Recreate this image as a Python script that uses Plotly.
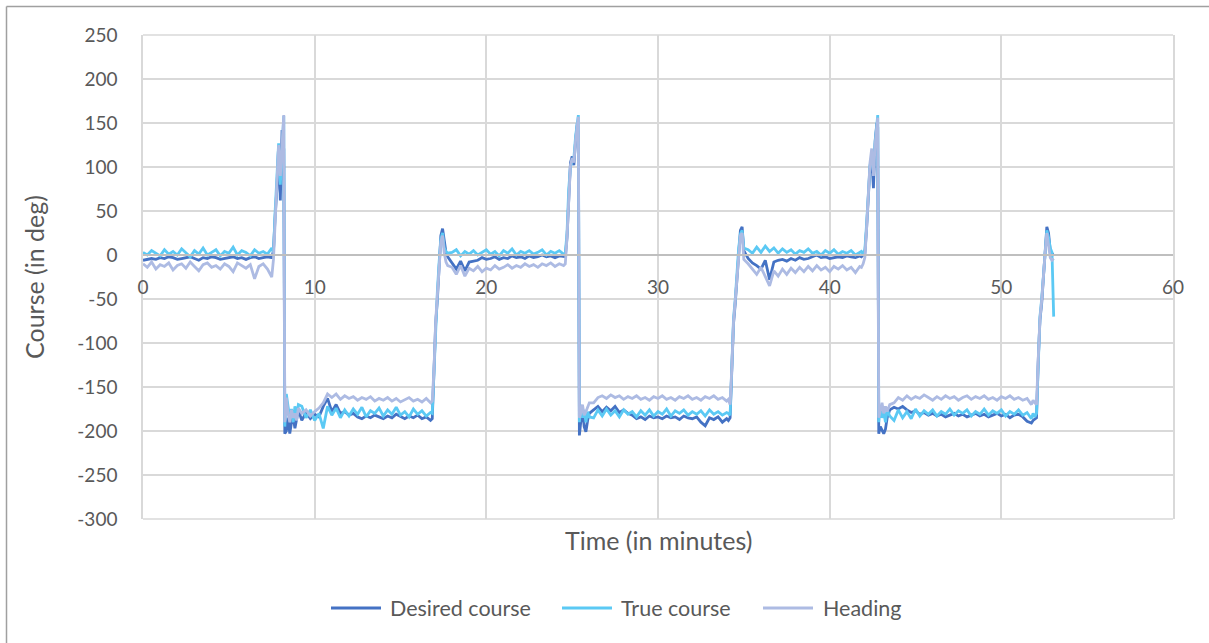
import plotly.graph_objects as go

# Sample times (minutes); denser sampling around each turn
minutes = [
    0, 0.25, 0.5, 0.75, 1, 1.25, 1.5, 1.75, 2, 2.25, 2.5, 2.75, 3, 3.25, 3.5, 3.75,
    4, 4.25, 4.5, 4.75, 5, 5.25, 5.5, 5.75, 6, 6.25, 6.5, 6.75, 7, 7.25, 7.5,
    7.6, 7.7, 7.8, 7.9, 8.0, 8.1, 8.2, 8.26, 8.35, 8.45, 8.55, 8.65, 8.75, 8.85, 8.95, 9.05,
    9.25, 9.5, 9.75, 10, 10.25, 10.5, 10.75, 11, 11.25, 11.5, 11.75, 12, 12.25, 12.5, 12.75,
    13, 13.25, 13.5, 13.75, 14, 14.25, 14.5, 14.75, 15, 15.25, 15.5, 15.75, 16, 16.25, 16.5, 16.75,
    16.85, 16.95, 17.05, 17.15, 17.25, 17.35, 17.45, 17.55, 17.65, 17.75,
    18, 18.25, 18.5, 18.75, 19, 19.25, 19.5, 19.75, 20, 20.25, 20.5, 20.75, 21, 21.25,
    21.5, 21.75, 22, 22.25, 22.5, 22.75, 23, 23.25, 23.5, 23.75, 24, 24.25, 24.5,
    24.6, 24.7, 24.8, 24.9, 25.0, 25.1, 25.2, 25.3, 25.36, 25.42, 25.5, 25.6, 25.7, 25.8, 25.9, 26.0,
    26.25, 26.5, 26.75, 27, 27.25, 27.5, 27.75, 28, 28.25, 28.5, 28.75, 29, 29.25, 29.5, 29.75,
    30, 30.25, 30.5, 30.75, 31, 31.25, 31.5, 31.75, 32, 32.25, 32.5, 32.75, 33, 33.25, 33.5, 33.75, 34,
    34.1, 34.2, 34.3, 34.4, 34.5, 34.6, 34.7, 34.8, 34.9, 35.0,
    35.25, 35.5, 35.75, 36, 36.25, 36.5, 36.75, 37, 37.25, 37.5, 37.75, 38, 38.25, 38.5,
    38.75, 39, 39.25, 39.5, 39.75, 40, 40.25, 40.5, 40.75, 41, 41.25, 41.5, 41.75,
    41.85, 41.95, 42.05, 42.15, 42.25, 42.35, 42.45, 42.55, 42.65, 42.75, 42.8, 42.86,
    42.95, 43.05, 43.15, 43.25, 43.35, 43.5,
    43.75, 44, 44.25, 44.5, 44.75, 45, 45.25, 45.5, 45.75, 46, 46.25, 46.5, 46.75, 47, 47.25,
    47.5, 47.75, 48, 48.25, 48.5, 48.75, 49, 49.25, 49.5, 49.75, 50, 50.25, 50.5, 50.75, 51,
    51.25, 51.5, 51.75,
    51.85, 51.95, 52.05, 52.15, 52.25, 52.35, 52.45, 52.55, 52.65, 52.75, 52.85, 52.95, 53.05,
]

desired_course = [
    -6, -5, -4, -5, -3, -4, -2, -3, -5, -4, -3, -2, -4, -6, -3, -4, -2, -3, -5, -4,
    -3, -2, -4, -3, -5, -3, -2, -4, -3, -2, -3,
    5, 45, 75, 125, 62, 142, 120, -203, -200, -185, -203, -190, -184, -197, -186, -176,
    -188, -179, -186, -181, -184, -172, -163, -178, -170, -180, -178, -182, -180, -184, -186,
    -183, -185, -182, -184, -186, -183, -185, -181, -184, -186, -183, -185, -182, -186, -184, -188,
    -186, -135, -78, -50, -15, 22, 30, 15, 3, -2,
    -9, -16, -7, -18, -8, -7, -6, -3, -5, -4, -2, -5, -3, -4, -1, -3, -2, -4, -1, -3,
    -2, 0, -2, -1, -3, -1, -2,
    -2, 20, 70, 105, 112, 102, 130, 150, 140, -205, -190, -175, -195, -201, -188, -180,
    -176, -172, -178, -173, -177, -172, -179, -176, -180, -182, -186, -184, -187, -183, -185,
    -184, -186, -183, -185, -184, -187, -183, -185, -186, -184, -190, -194, -185, -187, -184, -190, -186,
    -188, -185, -130, -78, -55, -25, 5, 28, 32, 5,
    -4, -9, -12, -16, -6, -28, -8, -6, -5, -7, -4, -6, -3, -5, -4, -2, 0, -3, -2, -4,
    -3, -2, -3, -1, -2, -3, -1,
    -2, 0, 2, 30, 70, 100, 110, 76, 130, 150, 145, -203, -195, -200, -203, -198, -185, -176,
    -173, -175, -172, -176, -179, -177, -181, -179, -182, -180, -183, -181, -184, -182, -180,
    -183, -181, -184, -182, -180, -183, -181, -184, -182, -180, -183, -181, -185, -182, -181,
    -184, -189, -191,
    -188, -186, -185, -120, -74, -55, -25, 5, 32, 25, 5, 2, -1,
]

true_course = [
    3, 0, 5, 2, -1, 6, 1, 4, 0, 7, 2, -2, 5, 1, 8, 0, 3, 6, -1, 4,
    2, 9, 0, 5, 3, -1, 6, 2, 4, 1, 8,
    3, 50, 85, 127, 80, 125, 158, -195, -158, -172, -185, -175, -190, -172, -183, -170,
    -172, -185, -176, -188, -180, -197, -172, -182, -174, -185, -176, -183, -175, -181, -173,
    -184, -177, -180, -174, -183, -176, -181, -173, -182, -178, -184, -175, -181, -177, -183, -179,
    -180, -130, -70, -40, -8, 18, 25, 8, 4, 2,
    3, 6, -1, 4, 1, 5, 0, 3, 6, 1, 4, -1, 5, 2, 7, 0, 4, 2, 5, 1,
    3, 6, 0, 4, 2, 5, 1,
    2, 25, 75, 100, 108, 110, 135, 155, 159, -190, -172, -185, -176, -190, -178, -184,
    -185, -176, -183, -175, -182, -177, -184, -176, -181, -178, -184, -177, -182, -176, -183,
    -178, -181, -175, -183, -177, -180, -176, -182, -178, -181, -177, -183, -176, -181, -178, -182, -179,
    -180, -182, -125, -72, -50, -20, 8, 24, 28, 8,
    6, 2, 9, 3, 10, 4, 8, 2, 7, 3, 6, 1, 5, 3, 7, 2, 4, 0, 5, 2,
    6, 1, 4, 2, 5, 0, 3,
    4, 1, 6, 35, 72, 102, 112, 95, 128, 155, 159, -190, -172, -185, -178, -190, -176, -183,
    -188, -176, -185, -178, -186, -175, -183, -177, -181, -176, -183, -178, -181, -175, -182,
    -177, -180, -176, -183, -178, -181, -175, -182, -177, -180, -176, -183, -178, -181, -176,
    -182, -179, -186,
    -180, -184, -180, -115, -70, -50, -20, 8, 28, 20, 8, 3, -70,
]

heading = [
    -10, -14, -8, -16, -11, -13, -9, -17, -12, -10, -15, -8, -13, -18, -11, -9, -14, -12, -16, -10,
    -13, -19, -9, -12, -15, -11, -27, -13, -10, -16, -25,
    -5, 45, 80, 125, 90, 130, 159, -190, -162, -180, -190, -176, -185, -180, -188, -174,
    -180, -176, -183, -178, -174, -168, -158, -162, -158, -164, -160, -163, -161, -165, -162,
    -164, -161, -166, -163, -165, -162, -166, -163, -167, -164, -162, -166, -164, -167, -163, -168,
    -166, -130, -75, -45, -12, 15, 22, 2, -8, -12,
    -14, -22, -12, -24, -15, -18, -13, -19, -15, -17, -12, -16, -14, -11, -15, -12, -14, -10, -13, -11,
    -14, -10, -12, -9, -13, -10, -12,
    -10, 20, 72, 102, 110, 105, 130, 152, 157, -185, -180, -170, -182, -178, -172, -168,
    -168, -162, -160, -163, -159, -162, -160, -164, -161, -163, -160, -164, -162, -165, -161,
    -163, -160, -164, -162, -165, -161, -163, -160, -164, -162, -165, -161, -163, -160, -164, -162, -166,
    -164, -170, -128, -76, -52, -24, 2, 22, 25, -5,
    -10, -16, -22, -14, -25, -35, -18, -24, -16, -22, -15, -20, -14, -19, -13, -18, -12, -17, -14, -19,
    -13, -16, -12, -17, -14, -20, -13,
    -14, -10, -3, 30, 75, 105, 121, 90, 125, 150, 156, -185, -178, -168, -180, -172, -178, -170,
    -168, -162, -165, -160, -164, -161, -163, -159, -162, -165, -161, -164, -160, -163, -161,
    -165, -162, -160, -164, -161, -163, -160, -164, -162, -165, -161, -163, -160, -164, -162,
    -165, -163, -170,
    -165, -168, -170, -118, -72, -52, -22, 2, 25, 12, -3, -6, -4,
]

assert len(minutes) == len(desired_course) == len(true_course) == len(heading)

# Axis ticks
time_ticks = [0, 10, 20, 30, 40, 50, 60]
course_ticks = [-300, -250, -200, -150, -100, -50, 0, 50, 100, 150, 200, 250]
course_tick_labels = ["-300", "-250", "-200", "-150", "-100", "-50",
                      "0", "50", "100", "150", "200", "250"]

series = [
    ("Desired course", desired_course, "#4472C4"),
    ("True course", true_course, "#5BC9F4"),
    ("Heading", heading, "#ADBBE3"),
]

GRID = "#D9D9D9"
TEXT = "#595959"
FONT = "Lato"
LINE_W = 2.8
W, H = 1209, 643
ML, MR, MT, MB = 143, 36, 35, 124
plot_w, plot_h = W - ML - MR, H - MT - MB


def px_x(p):
    """Page pixel column -> paper x."""
    return (p - ML) / plot_w


def px_y(p):
    """Page pixel row -> paper y."""
    return (H - MB - p) / plot_h


fig = go.Figure()
for name, values, color in series:
    fig.add_trace(go.Scatter(
        x=minutes, y=values, name=name, mode="lines",
        line=dict(color=color, width=LINE_W),
        hoverinfo="skip", showlegend=False,
    ))

Y_MIN, Y_MAX = course_ticks[0], course_ticks[-1]

fig.update_layout(
    width=W, height=H,
    margin=dict(l=ML, r=MR, t=MT, b=MB, autoexpand=False),
    paper_bgcolor="white", plot_bgcolor="white",
    font=dict(family=FONT, size=19, color=TEXT),
    showlegend=False,
    xaxis=dict(
        range=[time_ticks[0], time_ticks[-1]], tickmode="array", tickvals=time_ticks,
        showgrid=True, gridcolor=GRID, gridwidth=1.5,
        zeroline=False,
        anchor="free", position=(0 - Y_MIN) / (Y_MAX - Y_MIN),
        showline=True, linecolor="#BFBFBF", linewidth=1.5,
        ticks="", ticklabelstandoff=15,
        tickfont=dict(family=FONT, size=19, color=TEXT),
        automargin=False,
    ),
    yaxis=dict(
        range=[Y_MIN, Y_MAX], tickmode="array",
        tickvals=course_ticks, ticktext=course_tick_labels,
        showgrid=True, gridcolor=GRID, gridwidth=1.5,
        zeroline=False,
        showline=True, linecolor=GRID, linewidth=1.5, mirror=True,
        ticks="", ticklabelstandoff=20,
        tickfont=dict(family=FONT, size=19, color=TEXT),
        title=dict(text="Course (in deg)", standoff=26,
                   font=dict(family=FONT, size=25, color=TEXT)),
        automargin=False,
    ),
)

# Top and bottom edges of the plot area
for yy in (0, 1):
    fig.add_shape(type="line", xref="paper", yref="paper", layer="below",
                  x0=0, x1=1, y0=yy, y1=yy, line=dict(color=GRID, width=1.5))

# Horizontal axis title below the plot area
fig.add_annotation(
    text="Time (in minutes)", xref="paper", yref="paper",
    x=0.5, y=px_y(540), xanchor="center", yanchor="middle", showarrow=False,
    font=dict(family=FONT, size=25, color=TEXT),
)

# Legend row: line sample followed by the series name
legend_y = px_y(608)
legend_slots = [(331, 381, 388), (562, 612, 619), (763, 813, 821)]
for (name, _, color), (l0, l1, tx) in zip(series, legend_slots):
    fig.add_shape(type="line", xref="paper", yref="paper",
                  x0=px_x(l0), x1=px_x(l1), y0=legend_y, y1=legend_y,
                  line=dict(color=color, width=LINE_W))
    fig.add_annotation(
        text=name, xref="paper", yref="paper", x=px_x(tx), y=legend_y,
        xanchor="left", yanchor="middle", showarrow=False,
        font=dict(family=FONT, size=21.5, color=TEXT),
    )

# Chart-area frame (top and left edges)
frame = dict(color="#A0A0A0", width=1.5)
fig.add_shape(type="line", xref="paper", yref="paper",
              x0=px_x(6.5), x1=px_x(W), y0=px_y(6.5), y1=px_y(6.5), line=frame)
fig.add_shape(type="line", xref="paper", yref="paper",
              x0=px_x(6.5), x1=px_x(6.5), y0=px_y(6.5), y1=px_y(H), line=frame)

fig.write_html("out.html", config={"displayModeBar": False})
